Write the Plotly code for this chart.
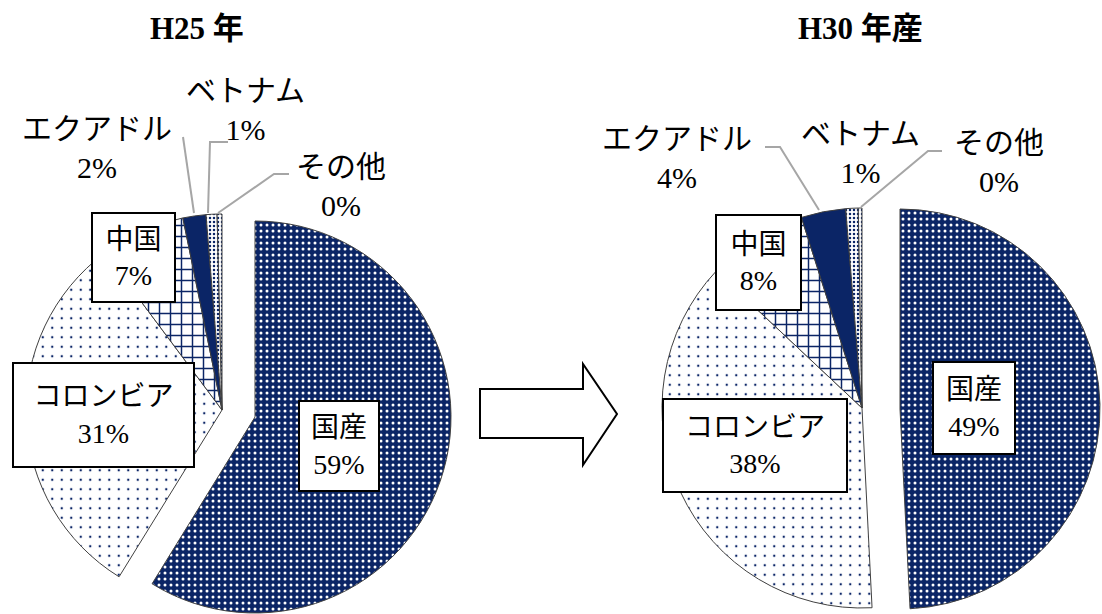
import plotly.graph_objects as go

W, H = 1102, 614

# Share of supply by origin (percent)
labels = ["国産", "コロンビア", "中国", "エクアドル", "ベトナム", "その他"]
h25_values = [58.8, 31.0, 7.0, 1.9, 0.9, 0.4]
h30_values = [49.2, 37.8, 8.1, 3.6, 1.0, 0.3]
titles = ["H25 年", "H30 年産"]

NAVY = "#0b2566"
CLEAR = "rgba(0,0,0,0)"
EDGE = "#404040"
FONT = "Liberation Serif, Noto Sans CJK JP, serif"

# fill pattern per category
pat_shape = [".", ".", "+", "", ".", "."]
pat_fg = ["white", NAVY, NAVY, NAVY, NAVY, NAVY]
pat_bg = [NAVY, "white", "white", NAVY, "white", "white"]
pat_size = [6, 9.5, 11, 8, 4, 4]
pat_solid = [0.2, 0.05, 0.25, 0.3, 0.3, 0.3]


def px_x(x):
    return x / W


def px_y(y):
    return 1 - y / H


def domain(cx, cy, r):
    return dict(x=[(cx - r) / W, (cx + r) / W], y=[1 - (cy + r) / H, 1 - (cy - r) / H])


def pie(values, keep, cx, cy, r):
    """Pie of all categories; only the indices in `keep` are painted."""
    show = [i in keep for i in range(len(values))]
    return go.Pie(
        labels=labels,
        values=values,
        sort=False,
        direction="clockwise",
        rotation=0,
        textinfo="none",
        hoverinfo="skip",
        showlegend=False,
        domain=domain(cx, cy, r),
        marker=dict(
            colors=[pat_bg[i] if s else CLEAR for i, s in enumerate(show)],
            line=dict(color=[EDGE if s else CLEAR for s in show],
                      width=[1 if s else 0 for s in show]),
            pattern=dict(
                shape=[pat_shape[i] if s else "" for i, s in enumerate(show)],
                fgcolor=[pat_fg[i] if s else CLEAR for i, s in enumerate(show)],
                bgcolor=[pat_bg[i] if s else CLEAR for i, s in enumerate(show)],
                size=pat_size,
                solidity=pat_solid,
                fillmode="replace",
            ),
        ),
    )


fig = go.Figure()
rest = [1, 2, 3, 4, 5]
# H25: body of the pie, then the domestic slice offset to the right
fig.add_trace(pie(h25_values, rest, 222, 410, 196))
fig.add_trace(pie(h25_values, [0], 255, 417, 196))
# H30
fig.add_trace(pie(h30_values, rest, 862, 408, 200))
fig.add_trace(pie(h30_values, [0], 900, 409, 200))


def pct_text(values, i):
    p = round(values[i] / sum(values) * 100)
    return f"{labels[i]}<br>{p:.0f}%"


annotations = []

# chart titles
for t, x in zip(titles, [197, 860]):
    annotations.append(dict(x=px_x(x), y=px_y(28), xref="paper", yref="paper",
                            text=f"<b>{t}</b>", showarrow=False,
                            xanchor="center", yanchor="middle",
                            font=dict(family=FONT, size=31, color="black")))

# boxed labels: (values, index, centre x, centre y, box w, box h)
boxed = [
    (h25_values, 2, 133.5, 257.5, 85, 91),
    (h25_values, 1, 103.5, 415, 183, 106),
    (h25_values, 0, 339, 446, 82, 92),
    (h30_values, 2, 758.5, 262, 87, 97),
    (h30_values, 1, 755, 445.5, 186, 95),
    (h30_values, 0, 974, 408, 84, 94),
]
for vals, i, x, y, bw, bh in boxed:
    annotations.append(dict(x=px_x(x), y=px_y(y), xref="paper", yref="paper",
                            text=pct_text(vals, i), showarrow=False,
                            xanchor="center", yanchor="middle",
                            width=bw - 4, height=bh - 4, align="center", valign="middle",
                            bgcolor="white", bordercolor="black", borderwidth=2, borderpad=0,
                            font=dict(family=FONT, size=28, color="black")))

# free labels for the small slices
free = [
    (h25_values, 3, 97, 148),
    (h25_values, 4, 245, 110),
    (h25_values, 5, 341, 186),
    (h30_values, 3, 677, 158),
    (h30_values, 4, 860, 153),
    (h30_values, 5, 999, 162),
]
for vals, i, x, y in free:
    annotations.append(dict(x=px_x(x), y=px_y(y), xref="paper", yref="paper",
                            text=pct_text(vals, i), showarrow=False,
                            xanchor="center", yanchor="middle", align="center",
                            font=dict(family=FONT, size=30, color="black")))


def path(points):
    return "M " + " L ".join(f"{px_x(x):.5f},{px_y(y):.5f}" for x, y in points)


shapes = []
leaders = [
    [(183, 137), (194, 213)],
    [(228, 142), (210, 142), (208, 213)],
    [(289, 174), (274, 174), (218, 213)],
    [(765, 147), (780, 147), (819, 210)],
    [(942, 151), (928, 151), (861, 207)],
]
for pts in leaders:
    shapes.append(dict(type="path", xref="paper", yref="paper", path=path(pts),
                       line=dict(color="#a6a6a6", width=2)))

# block arrow between the two pies
arrow = [(480, 389), (583, 389), (583, 364), (617, 414), (583, 465), (583, 438), (480, 438)]
shapes.append(dict(type="path", xref="paper", yref="paper", path=path(arrow) + " Z",
                   line=dict(color="black", width=2), fillcolor="white"))

fig.update_layout(
    width=W, height=H, autosize=False,
    margin=dict(l=0, r=0, t=0, b=0),
    paper_bgcolor="white", plot_bgcolor="white",
    annotations=annotations, shapes=shapes,
)

fig.write_html("out.html")
